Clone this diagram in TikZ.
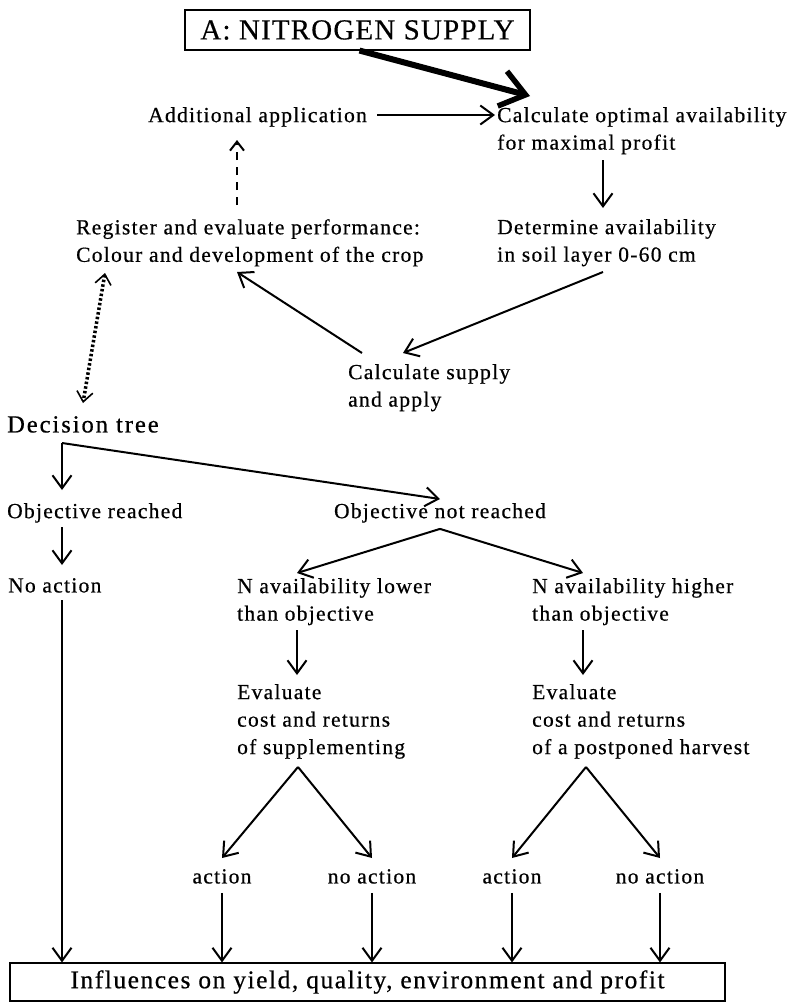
\documentclass[tikz,border=0pt]{standalone}
\usepackage{fontspec}
\setmainfont{Liberation Serif}
\newfontfamily\lsfont{Liberation Serif}[LetterSpace=6,FakeBold=0.6]
\newfontfamily\lswidefont{Liberation Serif}[LetterSpace=8,FakeBold=0.6]
\newfontfamily\lsheadfont{Liberation Serif}[LetterSpace=4,FakeBold=0.5]
\newcommand\txtfont{\lsfont\fontsize{21.5pt}{27.5pt}\selectfont}
\newcommand\bigtxtfont{\lswidefont\fontsize{24.5pt}{29pt}\selectfont}
\newcommand\resfont{\lsfont\fontsize{25.5pt}{30pt}\selectfont}
\newcommand\headfont{\lsheadfont\fontsize{29pt}{34pt}\selectfont}
\usetikzlibrary{arrows.meta}

\tikzset{
  txt/.style={anchor=north west, inner sep=0pt, align=left, font=\txtfont},
  lbl/.style={anchor=north, inner sep=0pt, font=\txtfont},
  headbox/.style={draw, line width=1.1pt, minimum width=345pt, minimum height=40pt,
    inner sep=0pt, font=\headfont},
  resultbox/.style={draw, line width=1.1pt, minimum width=715pt, minimum height=38pt,
    inner sep=0pt, font=\resfont},
  conn/.style={line width=2pt, -{Straight Barb[length=13pt,width=19pt,line width=2pt]}},
  heavy/.style={line width=6pt, -{Straight Barb[length=24pt,width=36pt,line width=5.5pt]}},
  dashconn/.style={line width=2.6pt, dash pattern=on 8pt off 7pt,
    -{Straight Barb[length=9pt,width=14pt,line width=2pt]}},
  loopconn/.style={line width=3.5pt, dash pattern=on 2.5pt off 2.2pt,
    {Straight Barb[length=10pt,width=16pt,line width=1.6pt]}-{Straight Barb[length=10pt,width=16pt,line width=1.6pt]}},
}

\begin{document}
\begin{tikzpicture}[x=1pt,y=-1pt]
\useasboundingbox (0,0) rectangle (802,1002);

% upper cycle
\node[headbox] (title) at (357.5,30) {A: NITROGEN SUPPLY};
\node[txt] (add) at (148,107) {Additional application};
\node[txt] (calc) at (497,107) {Calculate optimal availability\\for maximal profit};
\node[txt] (det) at (497,219) {Determine availability\\in soil layer 0-60 cm};
\node[txt] (supply) at (348,364) {Calculate supply\\and apply};
\node[txt] (reg) at (76,219) {Register and evaluate performance:\\Colour and development of the crop};

\draw[heavy] ([xshift=2pt]title.south) -- ([shift={(33,-11)}]calc.north west);
\draw[conn] ([shift={(10,8)}]add.north east) -- ([shift={(-2,8)}]calc.north west);
\draw[conn] ([shift={(106,53)}]calc.north west) -- ([shift={(106,-11)}]det.north west);
\draw[conn] ([shift={(106,53)}]det.north west) -- ([shift={(55,-11)}]supply.north west);
\draw[conn] ([shift={(14,-11)}]supply.north west) -- ([shift={(161,53)}]reg.north west);
\draw[dashconn] ([shift={(161,-14)}]reg.north west) -- ([shift={(89,33)}]add.north west);

% decision tree
\node[anchor=north west, inner sep=0pt, font=\bigtxtfont] (tree) at (7,416) {Decision tree};
\draw[loopconn] ([shift={(29,54)}]reg.north west) -- ([shift={(76,-13)}]tree.north west);

\node[txt] (reached) at (7,503) {Objective reached};
\node[lbl] (notreached) at (440,503) {Objective not reached};
\coordinate (fork) at ([shift={(55,27)}]tree.north west);
\draw[conn] (fork) -- ([shift={(55,-13)}]reached.north west);
\draw[conn] (fork) -- ([shift={(0,-4)}]notreached.north);

\node[txt] (noact) at (8,578) {No action};
\draw[conn] ([shift={(55,24)}]reached.north west) -- ([shift={(54,-13)}]noact.north west);

\node[txt] (lower) at (237,578) {N availability lower\\than objective};
\node[txt] (higher) at (532,578) {N availability higher\\than objective};
\draw[conn] ([shift={(0,6)}]notreached.south) -- ([shift={(60,-5)}]lower.north west);
\draw[conn] ([shift={(0,6)}]notreached.south) -- ([shift={(51,-5)}]higher.north west);

\node[txt] (evl) at (237,684) {Evaluate\\cost and returns\\of supplementing};
\node[txt] (evh) at (532,684) {Evaluate\\cost and returns\\of a postponed harvest};
\draw[conn] ([shift={(60,52)}]lower.north west) -- ([shift={(60,-9)}]evl.north west);
\draw[conn] ([shift={(51,52)}]higher.north west) -- ([shift={(51,-9)}]evh.north west);

\node[lbl] (actl) at (222,869) {action};
\node[lbl] (noactl) at (372,869) {no action};
\node[lbl] (acth) at (512,869) {action};
\node[lbl] (noacth) at (660,869) {no action};

\draw[conn] ([shift={(61,83)}]evl.north west) -- ([shift={(0,-11)}]actl.north);
\draw[conn] ([shift={(61,83)}]evl.north west) -- ([shift={(0,-11)}]noactl.north);
\draw[conn] ([shift={(54,83)}]evh.north west) -- ([shift={(0,-11)}]acth.north);
\draw[conn] ([shift={(54,83)}]evh.north west) -- ([shift={(0,-11)}]noacth.north);

% outcome
\node[resultbox] (result) at (367.5,982) {Influences on yield, quality, environment and profit};
\coordinate (notail) at ([shift={(54,22)}]noact.north west);
\draw[conn] (notail) -- (notail |- result.north);
\draw[conn] ([shift={(0,9)}]actl.south) -- (actl.south |- result.north);
\draw[conn] ([shift={(0,9)}]noactl.south) -- (noactl.south |- result.north);
\draw[conn] ([shift={(0,9)}]acth.south) -- (acth.south |- result.north);
\draw[conn] ([shift={(0,9)}]noacth.south) -- (noacth.south |- result.north);
\end{tikzpicture}
\end{document}
